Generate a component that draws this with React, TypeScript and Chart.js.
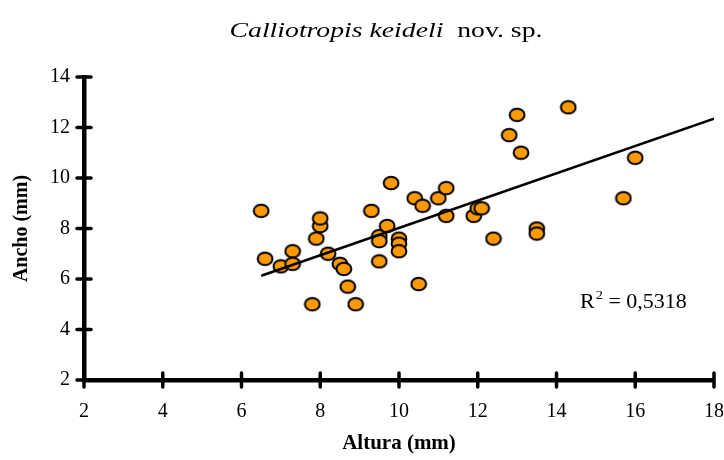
import React, { useEffect, useRef } from "react";
import { Chart, registerables } from "chart.js";

Chart.register(...registerables);

// ---- data ----
const alturaX = [6.5, 6.6, 7.0, 7.3, 7.3, 7.8, 7.9, 8.0, 8.0, 8.2, 8.5, 8.6, 8.7, 8.9, 9.3, 9.5, 9.5, 9.5, 9.7, 9.8, 10.0, 10.0, 10.0, 10.4, 10.5, 10.6, 11.0, 11.2, 11.2, 11.9, 12.0, 12.1, 12.4, 12.8, 13.0, 13.1, 13.5, 13.5, 14.3, 15.7, 16.0];
const anchoY = [8.7, 6.8, 6.5, 7.1, 6.6, 5.0, 7.6, 8.1, 8.4, 7.0, 6.6, 6.4, 5.7, 5.0, 8.7, 7.7, 7.5, 6.7, 8.1, 9.8, 7.6, 7.4, 7.1, 9.2, 5.8, 8.9, 9.2, 9.6, 8.5, 8.5, 8.8, 8.8, 7.6, 11.7, 12.5, 11.0, 8.0, 7.8, 12.8, 9.2, 10.8];
const trendX = [6.5, 18];
const trendY = [6.13, 12.35];
const xTicks = [2, 4, 6, 8, 10, 12, 14, 16, 18];
const yTicks = [2, 4, 6, 8, 10, 12, 14];
const titleItalic = "Calliotropis keideli";
const titleNormal = "nov. sp.";
const xTitle = "Altura (mm)";
const yTitle = "Ancho (mm)";
const r2Value = "0,5318";

const SERIF = "'Liberation Serif', 'Times New Roman', serif";

function makeMarker(): HTMLCanvasElement {
  const c = document.createElement("canvas");
  c.width = 18;
  c.height = 16;
  const ctx = c.getContext("2d")!;
  ctx.beginPath();
  ctx.ellipse(9, 8, 7.4, 6.3, 0, 0, Math.PI * 2);
  ctx.fillStyle = "#FF9900";
  ctx.fill();
  ctx.lineWidth = 2;
  ctx.strokeStyle = "#000";
  ctx.stroke();
  return c;
}

const decorPlugin = {
  id: "decor",
  afterDraw(chart: any) {
    const ctx = chart.ctx as CanvasRenderingContext2D;
    const xs = chart.scales.x;
    const ys = chart.scales.y;
    const area = chart.chartArea;
    ctx.save();
    // tick crosses
    ctx.strokeStyle = "#000";
    ctx.lineWidth = 3.5;
    ctx.lineCap = "round";
    for (const v of yTicks) {
      const py = ys.getPixelForValue(v);
      ctx.beginPath();
      ctx.moveTo(area.left - 7, py);
      ctx.lineTo(area.left + 7, py);
      ctx.stroke();
    }
    for (const v of xTicks) {
      const px = xs.getPixelForValue(v);
      ctx.beginPath();
      ctx.moveTo(px, area.bottom - 7);
      ctx.lineTo(px, area.bottom + 7);
      ctx.stroke();
    }
    // title
    ctx.fillStyle = "#000";
    ctx.textBaseline = "alphabetic";
    const fi = "italic 22px " + SERIF;
    const fn = "22px " + SERIF;
    ctx.font = fi;
    const w1 = ctx.measureText(titleItalic + "  ").width;
    ctx.font = fn;
    const w2 = ctx.measureText(titleNormal).width;
    const sx = 1.26;
    const total = (w1 + w2) * sx;
    const cx = 386;
    ctx.translate(cx - total / 2, 37);
    ctx.scale(sx, 1);
    ctx.font = fi;
    ctx.fillText(titleItalic + "  ", 0, 0);
    ctx.font = fn;
    ctx.fillText(titleNormal, w1, 0);
    ctx.setTransform(1, 0, 0, 1, 0, 0);
    // R^2 label
    const rx = 580;
    const ry = 308;
    ctx.translate(rx, ry);
    ctx.scale(1.1, 1);
    ctx.font = "20px " + SERIF;
    ctx.fillText("R", 0, 0);
    const rw = ctx.measureText("R").width;
    ctx.font = "13px " + SERIF;
    ctx.fillText("2", rw + 1, -9);
    const sw = ctx.measureText("2").width;
    ctx.font = "20px " + SERIF;
    ctx.fillText(" = " + r2Value, rw + sw + 1, 0);
    ctx.setTransform(1, 0, 0, 1, 0, 0);
    ctx.restore();
  },
};

export default function App() {
  const ref = useRef<HTMLCanvasElement | null>(null);
  useEffect(() => {
    if (!ref.current) return;
    const marker = makeMarker();
    const chart = new Chart(ref.current, {
      type: "scatter",
      data: {
        datasets: [
          {
            label: "Trend",
            type: "line",
            data: trendX.map((x, i) => ({ x, y: trendY[i] })),
            borderColor: "#000",
            borderWidth: 2.5,
            pointRadius: 0,
            fill: false,
            order: 0,
          } as any,
          {
            label: "Calliotropis keideli",
            data: alturaX.map((x, i) => ({ x, y: anchoY[i] })),
            pointStyle: marker as any,
            pointRadius: 8,
            order: 1,
          },
        ],
      },
      options: {
        animation: false,
        responsive: false,
        maintainAspectRatio: false,
        layout: { padding: { top: 77, right: 10, left: 0, bottom: 0 } },
        plugins: {
          legend: { display: false },
          tooltip: { enabled: false },
          title: { display: false },
        },
        scales: {
          x: {
            type: "linear",
            min: 2,
            max: 18,
            afterFit: (s: any) => {
              s.height = 80;
              s.paddingLeft = 0;
              s.paddingRight = 0;
            },
            afterBuildTicks: (s: any) => {
              s.ticks = xTicks.map((v) => ({ value: v }));
            },
            grid: { display: false, drawTicks: false },
            border: { display: true, color: "#000", width: 4.5 },
            ticks: {
              padding: 20,
              color: "#000",
              font: { family: SERIF, size: 20 },
              maxRotation: 0,
              autoSkip: false,
            },
            title: {
              display: true,
              text: xTitle,
              color: "#000",
              font: { family: SERIF, size: 21, weight: "bold" },
              padding: { top: 0, bottom: 4 },
            },
          },
          y: {
            type: "linear",
            min: 2,
            max: 14,
            afterFit: (s: any) => {
              s.width = 84;
              s.paddingTop = 0;
              s.paddingBottom = 0;
            },
            afterBuildTicks: (s: any) => {
              s.ticks = yTicks.map((v) => ({ value: v }));
            },
            grid: { display: false, drawTicks: false },
            border: { display: true, color: "#000", width: 4.5 },
            ticks: {
              padding: 14,
              color: "#000",
              font: { family: SERIF, size: 20 },
              autoSkip: false,
            },
            title: {
              display: true,
              text: yTitle,
              color: "#000",
              font: { family: SERIF, size: 20, weight: "bold" },
              padding: { top: 10, bottom: 0 },
            },
          },
        },
      },
      plugins: [decorPlugin],
    });
    return () => chart.destroy();
  }, []);
  return (
    <div style={{ position: "absolute", left: 0, top: 0, width: 724, height: 460, background: "#fff" }}>
      <canvas ref={ref} width={724} height={460} style={{ width: 724, height: 460 }} />
    </div>
  );
}
